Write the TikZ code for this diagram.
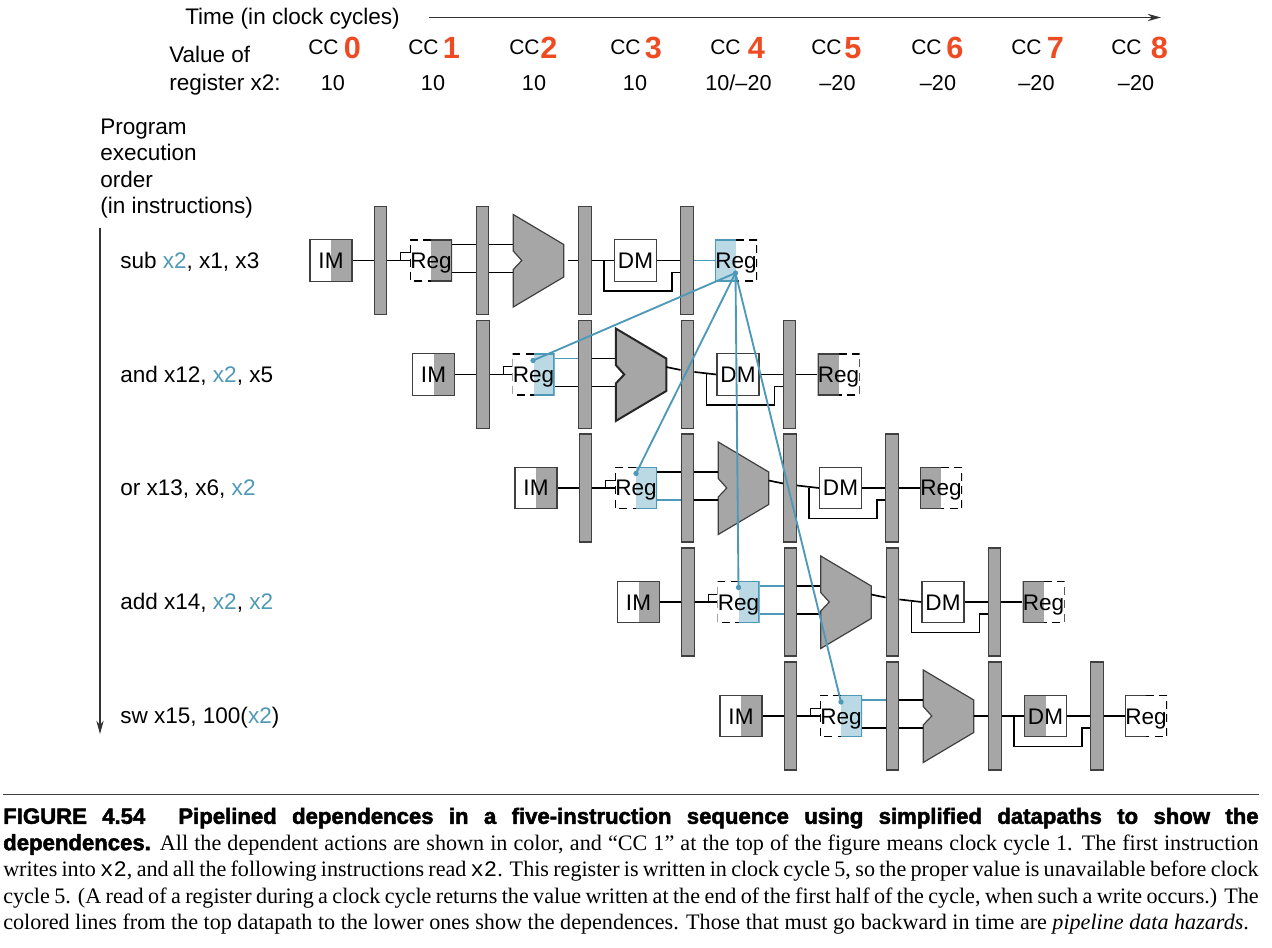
\documentclass[tikz,border=0pt]{standalone}
\usepackage{fontspec}
\setmainfont{Liberation Sans}
\setmonofont{Liberation Mono}
\newfontfamily\capserif{Liberation Serif}
\newfontfamily\capheavy[BoldFeatures={FakeBold=2.2}]{Liberation Sans}
\usetikzlibrary{arrows.meta}
\definecolor{pipeGray}{HTML}{A6A6A6}
\definecolor{pipeEdge}{HTML}{404040}
\definecolor{hazBlue}{HTML}{4E98B8}
\definecolor{hazFill}{HTML}{BAD9E5}
\definecolor{ccOrange}{HTML}{EE4B23}
\tikzset{
  pipefig/.style={
    x=0.75pt, y=-0.75pt,
    every node/.append style={font=\fontsize{16.9}{18}\selectfont},
    >={Stealth[length=10pt, width=5.5pt]},
  },
  labeltext/.style={anchor=base west, inner sep=0pt},
  cctext/.style={labeltext, font=\fontsize{15.75}{18}\selectfont},
  valuetext/.style={anchor=base, inner sep=0pt, font=\fontsize{16.2}{18}\selectfont},
  ccdigit/.style={anchor=base, inner sep=0pt, text=ccOrange, font=\fontsize{23}{24}\selectfont\bfseries},
  barnode/.style={draw=pipeEdge, line width=0.9pt, fill=pipeGray, inner sep=0pt, minimum width=9.5pt, minimum height=81pt},
  boxbase/.style={inner sep=0pt, minimum width=31.5pt, minimum height=31pt, text height=12pt, text depth=0pt},
  % One half filled, its border solid; the other half keeps a dashed border.
  regright/.style 2 args={boxbase, path picture={
    \fill[#1] (path picture bounding box.north) rectangle (path picture bounding box.south east);
    \draw[#2, line width=1.6pt] (path picture bounding box.north) -| (path picture bounding box.south east) -- (path picture bounding box.south);
    \draw[black, line width=1.2pt, dash pattern=on 6pt off 4pt] (path picture bounding box.north) -| (path picture bounding box.south west) -- (path picture bounding box.south);
  }},
  regleft/.style 2 args={boxbase, path picture={
    \fill[#1] (path picture bounding box.north) rectangle (path picture bounding box.south west);
    \draw[#2, line width=1.6pt] (path picture bounding box.north) -| (path picture bounding box.south west) -- (path picture bounding box.south);
    \draw[black, line width=1.2pt, dash pattern=on 6pt off 4pt] (path picture bounding box.north) -| (path picture bounding box.south east) -- (path picture bounding box.south);
  }},
  imnode/.style={boxbase, draw=pipeEdge, line width=0.9pt, path picture={
    \fill[pipeGray] (path picture bounding box.north) rectangle (path picture bounding box.south east);
  }},
  dmnode/.style={boxbase, draw=pipeEdge, line width=0.9pt},
  dmgray/.style={boxbase, draw=pipeEdge, line width=0.9pt, path picture={
    \fill[pipeGray] (path picture bounding box.north) rectangle (path picture bounding box.south west);
  }},
  alubox/.style={inner sep=0pt, minimum width=37.875pt, minimum height=69.4pt},
  aluline/.style={draw=pipeEdge, fill=pipeGray, line width=0.9pt, line join=miter},
  aluthick/.style={aluline, draw=black!85, line width=1.5pt},
  wire/.style={draw=black, line width=1.25pt},
  wireblue/.style={draw=hazBlue, line width=1.25pt},
  clockwire/.style={draw=black, line width=0.6pt},
  hazard/.style={draw=hazBlue, line width=1.4pt},
  hazdot/.style={circle, fill=hazBlue, inner sep=0pt, minimum size=4pt},
  axisline/.style={draw=black!80, line width=0.9pt, ->},
}
\newcommand{\alunode}[4]{%
  \node[alubox] (#1) at (#2,#3) {};
  \draw[#4] (#1.center) ++(-25,-46) -- ++(50.5,30) -- ++(0,32.5) -- ++(-50.5,30) -- ++(0,-37.5) -- ++(8.5,-9) -- ++(-8.5,-9.5) -- cycle;
}
\newcommand{\xtwo}{\textcolor{hazBlue}{x2}}
\newlength{\capwidth}
\setlength{\capwidth}{941.5pt}
\begin{document}
\begin{tikzpicture}[pipefig]
  \useasboundingbox (0,0) rectangle (1272,948);
  \node[labeltext] (timeLabel) at (185,25) {Time (in clock cycles)};
  \coordinate (timeStart) at (429,17.5);
  \coordinate (timeEnd) at (1161,17.5);
  \draw[axisline] (timeStart) -- (timeEnd);
  \node[labeltext] (valueLabelA) at (169,62.5) {Value of};
  \node[labeltext] (valueLabelB) at (169,90.5) {register x2:};
  \node[cctext] (ccA) at (308,55) {CC};
  \node[cctext] (ccB) at (408,55) {CC};
  \node[cctext] (ccC) at (509,55) {CC};
  \node[cctext] (ccD) at (610,55) {CC};
  \node[cctext] (ccE) at (710,55) {CC};
  \node[cctext] (ccF) at (811,55) {CC};
  \node[cctext] (ccG) at (911,55) {CC};
  \node[cctext] (ccH) at (1011,55) {CC};
  \node[cctext] (ccI) at (1111,55) {CC};
  \node[ccdigit] (digitA) at (352.5,59) {0};
  \node[ccdigit] (digitB) at (451.5,59) {1};
  \node[ccdigit] (digitC) at (549,59) {2};
  \node[ccdigit] (digitD) at (653.5,59) {3};
  \node[ccdigit] (digitE) at (756.5,59) {4};
  \node[ccdigit] (digitF) at (853,59) {5};
  \node[ccdigit] (digitG) at (955,59) {6};
  \node[ccdigit] (digitH) at (1055.5,59) {7};
  \node[ccdigit] (digitI) at (1159.5,59) {8};
  \node[valuetext] (valA) at (333,90.5) {10};
  \node[valuetext] (valB) at (433,90.5) {10};
  \node[valuetext] (valC) at (534,90.5) {10};
  \node[valuetext] (valD) at (635,90.5) {10};
  \node[valuetext] (valE) at (738.5,90.5) {10/--20};
  \node[valuetext] (valF) at (837.5,90.5) {--20};
  \node[valuetext] (valG) at (938,90.5) {--20};
  \node[valuetext] (valH) at (1036.5,90.5) {--20};
  \node[valuetext] (valI) at (1136,90.5) {--20};
  \node[labeltext] (orderA) at (100,134.5) {Program};
  \node[labeltext] (orderB) at (100,161) {execution};
  \node[labeltext] (orderC) at (100,187.5) {order};
  \node[labeltext] (orderD) at (100,214) {(in instructions)};
  \coordinate (orderStart) at (100,228);
  \coordinate (orderEnd) at (100,734);
  \draw[axisline] (orderStart) -- (orderEnd);
  \node[labeltext] (instSub) at (120,268.5) {sub \xtwo, x1, x3};
  \node[labeltext] (instAnd) at (120,382.5) {and x12, \xtwo, x5};
  \node[labeltext] (instOr) at (120,495.5) {or x13, x6, \xtwo};
  \node[labeltext] (instAdd) at (120,609.5) {add x14, \xtwo, \xtwo};
  \node[labeltext] (instSw) at (120,723.5) {sw x15, 100(\xtwo)};
  % Zeile sub
  \node[imnode] (imSub) at (331,260.5) {IM};
  \node[barnode] (barSubA) at (380.5,260.5) {};
  \node[regright={pipeGray}{pipeEdge}] (regSubId) at (431,260.5) {Reg};
  \node[barnode] (barSubB) at (482.5,260.5) {};
  \alunode{aluSub}{538.25}{260.5}{aluline}
  \node[barnode] (barSubC) at (585,260.5) {};
  \node[dmnode] (dmSub) at (635.5,260.5) {DM};
  \node[barnode] (barSubD) at (687,260.5) {};
  \node[regleft={hazFill}{hazBlue}] (regSubWb) at (736,260.5) {Reg};
  \draw[wire] (imSub) -- (barSubA);
  \draw[wire] (barSubA) -- (regSubId);
  \draw[clockwire] ([xshift=-6.75pt]regSubId.west) |- ([yshift=6pt]regSubId.west);
  \draw[wire] ([yshift=12pt]regSubId.east) -- ([yshift=12pt]barSubB.west);
  \draw[wire] ([yshift=-9pt]regSubId.east) -- ([yshift=-9pt]barSubB.west);
  \draw[wire] ([yshift=12pt]barSubB.east) -- ([yshift=12pt]aluSub.west);
  \draw[wire] ([yshift=-9pt]barSubB.east) -- ([yshift=-9pt]aluSub.west);
  \draw[wire] ([xshift=3pt]aluSub.east) -- (barSubC);
  \draw[wire] (barSubC) -- (dmSub);
  \draw[wire] (dmSub) -- (barSubD);
  \draw[wireblue] (barSubD) -- (regSubWb);
  \draw[wire] ([xshift=-7.5pt]dmSub.west) -- ++(0,30.5) -- ++(68,0) |- ([yshift=-9pt]barSubD.west);
  % Zeile and
  \node[imnode] (imAnd) at (433.5,374.5) {IM};
  \node[barnode] (barAndA) at (483,374.5) {};
  \node[regright={hazFill}{hazBlue}] (regAndId) at (533.5,374.5) {Reg};
  \node[barnode] (barAndB) at (585,374.5) {};
  \alunode{aluAnd}{640.75}{374.5}{aluthick}
  \node[barnode] (barAndC) at (687.5,374.5) {};
  \node[dmnode] (dmAnd) at (738,374.5) {DM};
  \node[barnode] (barAndD) at (789.5,374.5) {};
  \node[regleft={pipeGray}{pipeEdge}] (regAndWb) at (838.5,374.5) {Reg};
  \draw[wire] (imAnd) -- (barAndA);
  \draw[wire] (barAndA) -- (regAndId);
  \draw[clockwire] ([xshift=-6.75pt]regAndId.west) |- ([yshift=6pt]regAndId.west);
  \draw[wireblue] ([yshift=12pt]regAndId.east) -- ([yshift=12pt]barAndB.west);
  \draw[wire] ([yshift=-9pt]regAndId.east) -- ([yshift=-9pt]barAndB.west);
  \draw[wire] ([yshift=12pt]barAndB.east) -- ([yshift=12pt]aluAnd.west);
  \draw[wire] ([yshift=-9pt]barAndB.east) -- ([yshift=-9pt]aluAnd.west);
  \draw[wire] ([yshift=5.6pt]aluAnd.east) -- ([yshift=3.4pt]barAndC.west);
  \draw[wire] ([yshift=1.9pt]barAndC.east) -- (dmAnd.west);
  \draw[wire] (dmAnd) -- (barAndD);
  \draw[wire] (barAndD) -- (regAndWb);
  \draw[wire] ([xshift=-7.5pt]dmAnd.west) -- ++(0,30.5) -- ++(68,0) |- ([yshift=-9pt]barAndD.west);
  % Zeile or
  \node[imnode] (imOr) at (536,488) {IM};
  \node[barnode] (barOrA) at (585.5,488) {};
  \node[regright={hazFill}{hazBlue}] (regOrId) at (636,488) {Reg};
  \node[barnode] (barOrB) at (687.5,488) {};
  \alunode{aluOr}{743.25}{488}{aluline}
  \node[barnode] (barOrC) at (790,488) {};
  \node[dmnode] (dmOr) at (840.5,488) {DM};
  \node[barnode] (barOrD) at (892,488) {};
  \node[regleft={pipeGray}{pipeEdge}] (regOrWb) at (941,488) {Reg};
  \draw[wire] (imOr) -- (barOrA);
  \draw[wire] (barOrA) -- (regOrId);
  \draw[clockwire] ([xshift=-6.75pt]regOrId.west) |- ([yshift=6pt]regOrId.west);
  \draw[wire] ([yshift=12pt]regOrId.east) -- ([yshift=12pt]barOrB.west);
  \draw[wireblue] ([yshift=-9pt]regOrId.east) -- ([yshift=-9pt]barOrB.west);
  \draw[wire] ([yshift=12pt]barOrB.east) -- ([yshift=12pt]aluOr.west);
  \draw[wire] ([yshift=-9pt]barOrB.east) -- ([yshift=-9pt]aluOr.west);
  \draw[wire] ([yshift=5.6pt]aluOr.east) -- ([yshift=3.4pt]barOrC.west);
  \draw[wire] ([yshift=1.9pt]barOrC.east) -- (dmOr.west);
  \draw[wire] (dmOr) -- (barOrD);
  \draw[wire] (barOrD) -- (regOrWb);
  \draw[wire] ([xshift=-7.5pt]dmOr.west) -- ++(0,30.5) -- ++(68,0) |- ([yshift=-9pt]barOrD.west);
  % Zeile add
  \node[imnode] (imAdd) at (638.5,602) {IM};
  \node[barnode] (barAddA) at (688,602) {};
  \node[regright={hazFill}{hazBlue}] (regAddId) at (738.5,602) {Reg};
  \node[barnode] (barAddB) at (790.5,602) {};
  \alunode{aluAdd}{845.75}{602}{aluline}
  \node[barnode] (barAddC) at (892.5,602) {};
  \node[dmnode] (dmAdd) at (943,602) {DM};
  \node[barnode] (barAddD) at (994.5,602) {};
  \node[regleft={pipeGray}{pipeEdge}] (regAddWb) at (1043.5,602) {Reg};
  \draw[wire] (imAdd) -- (barAddA);
  \draw[wire] (barAddA) -- (regAddId);
  \draw[clockwire] ([xshift=-6.75pt]regAddId.west) |- ([yshift=6pt]regAddId.west);
  \draw[wireblue] ([yshift=12pt]regAddId.east) -- ([yshift=12pt]barAddB.west);
  \draw[wireblue] ([yshift=-9pt]regAddId.east) -- ([yshift=-9pt]barAddB.west);
  \draw[wire] ([yshift=12pt]barAddB.east) -- ([yshift=12pt]aluAdd.west);
  \draw[wire] ([yshift=-9pt]barAddB.east) -- ([yshift=-9pt]aluAdd.west);
  \draw[wire] ([yshift=5.6pt]aluAdd.east) -- ([yshift=3.4pt]barAddC.west);
  \draw[wire] ([yshift=1.9pt]barAddC.east) -- (dmAdd.west);
  \draw[wire] (dmAdd) -- (barAddD);
  \draw[wire] (barAddD) -- (regAddWb);
  \draw[wire] ([xshift=-7.5pt]dmAdd.west) -- ++(0,30.5) -- ++(68,0) |- ([yshift=-9pt]barAddD.west);
  % Zeile sw
  \node[imnode] (imSw) at (741,716) {IM};
  \node[barnode] (barSwA) at (790.5,716) {};
  \node[regright={hazFill}{hazBlue}] (regSwId) at (841,716) {Reg};
  \node[barnode] (barSwB) at (892.5,716) {};
  \alunode{aluSw}{948.25}{716}{aluline}
  \node[barnode] (barSwC) at (995,716) {};
  \node[dmgray] (dmSw) at (1045.5,716) {DM};
  \node[barnode] (barSwD) at (1097,716) {};
  \node[regleft={white}{pipeEdge}] (regSwWb) at (1146,716) {Reg};
  \draw[wire] (imSw) -- (barSwA);
  \draw[wire] (barSwA) -- (regSwId);
  \draw[clockwire] ([xshift=-6.75pt]regSwId.west) |- ([yshift=6pt]regSwId.west);
  \draw[wireblue] ([yshift=12pt]regSwId.east) -- ([yshift=12pt]barSwB.west);
  \draw[wire] ([yshift=-9pt]regSwId.east) -- ([yshift=-9pt]barSwB.west);
  \draw[wire] ([yshift=12pt]barSwB.east) -- ([yshift=12pt]aluSw.west);
  \draw[wire] ([yshift=-9pt]barSwB.east) -- ([yshift=-9pt]aluSw.west);
  \draw[wire] (aluSw.east) -- (barSwC);
  \draw[wire] (barSwC) -- (dmSw);
  \draw[wire] (dmSw) -- (barSwD);
  \draw[wire] (barSwD) -- (regSwWb);
  \draw[wire] ([xshift=-7.5pt]dmSw.west) -- ++(0,30.5) -- ++(68,0) |- ([yshift=-9pt]barSwD.west);
  % Abhaengigkeiten
  \node[hazdot] (dotSrc) at (735.5,273) {};
  \node[hazdot] (dotAnd) at (533,360.5) {};
  \node[hazdot] (dotOr) at (636,473.5) {};
  \node[hazdot] (dotAdd) at (738.5,587.5) {};
  \node[hazdot] (dotSw) at (841,702) {};
  \draw[hazard] (dotSrc.center) -- (dotAnd.center);
  \draw[hazard] (dotSrc.center) -- (dotOr.center);
  \draw[hazard] (dotSrc.center) -- (dotAdd.center);
  \draw[hazard] (dotSrc.center) -- (dotSw.center);
  % Bildunterschrift
  \coordinate (ruleLeft) at (3,794.5);
  \coordinate (ruleRight) at (1259,794.5);
  \draw[draw=black!75, line width=0.9pt] (ruleLeft) -- (ruleRight);
  \node[anchor=north west, inner sep=0pt, align=left, font=\capserif\fontsize{16.6}{19.8}\selectfont] (caption) at (3,807.5) {%
    \makebox[\capwidth][s]{{\capheavy\bfseries FIGURE 4.54\hspace{0.8em} Pipelined dependences in a five-instruction sequence using simplified datapaths to show the}}\\
    \makebox[\capwidth][s]{{\capheavy\bfseries dependences.} All the dependent actions are shown in color, and “CC 1” at the top of the figure means clock cycle 1. The first instruction}\\
    \makebox[\capwidth][s]{writes into {\ttfamily x2}, and all the following instructions read {\ttfamily x2}. This register is written in clock cycle 5, so the proper value is unavailable before clock}\\
    \makebox[\capwidth][s]{cycle 5. (A read of a register during a clock cycle returns the value written at the end of the first half of the cycle, when such a write occurs.) The}\\
    colored lines from the top datapath to the lower ones show the dependences. Those that must go backward in time are \textit{pipeline data hazards}.};
\end{tikzpicture}
\end{document}
